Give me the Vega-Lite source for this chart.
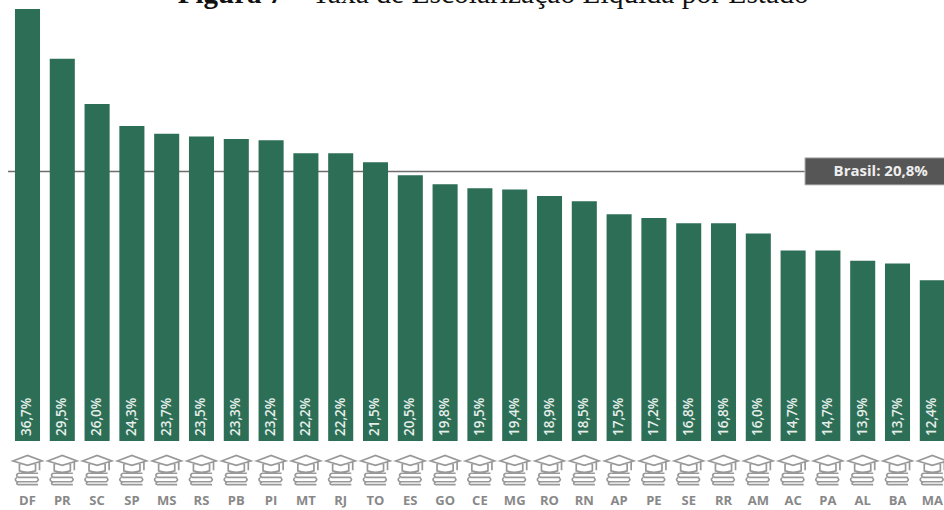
{
  "$schema": "https://vega.github.io/schema/vega-lite/v6.json",
  "width": 936,
  "height": 432,
  "autosize": {"type": "none"},
  "padding": {"left": 8, "top": 9, "right": 0, "bottom": 69},
  "background": "white",
  "config": {"view": {"stroke": null}},
  "data": {"values": [
    {"uf": "DF", "taxa": 36.7, "rotulo": "36,7%"},
    {"uf": "PR", "taxa": 29.5, "rotulo": "29,5%"},
    {"uf": "SC", "taxa": 26.0, "rotulo": "26,0%"},
    {"uf": "SP", "taxa": 24.3, "rotulo": "24,3%"},
    {"uf": "MS", "taxa": 23.7, "rotulo": "23,7%"},
    {"uf": "RS", "taxa": 23.5, "rotulo": "23,5%"},
    {"uf": "PB", "taxa": 23.3, "rotulo": "23,3%"},
    {"uf": "PI", "taxa": 23.2, "rotulo": "23,2%"},
    {"uf": "MT", "taxa": 22.2, "rotulo": "22,2%"},
    {"uf": "RJ", "taxa": 22.2, "rotulo": "22,2%"},
    {"uf": "TO", "taxa": 21.5, "rotulo": "21,5%"},
    {"uf": "ES", "taxa": 20.5, "rotulo": "20,5%"},
    {"uf": "GO", "taxa": 19.8, "rotulo": "19,8%"},
    {"uf": "CE", "taxa": 19.5, "rotulo": "19,5%"},
    {"uf": "MG", "taxa": 19.4, "rotulo": "19,4%"},
    {"uf": "RO", "taxa": 18.9, "rotulo": "18,9%"},
    {"uf": "RN", "taxa": 18.5, "rotulo": "18,5%"},
    {"uf": "AP", "taxa": 17.5, "rotulo": "17,5%"},
    {"uf": "PE", "taxa": 17.2, "rotulo": "17,2%"},
    {"uf": "SE", "taxa": 16.8, "rotulo": "16,8%"},
    {"uf": "RR", "taxa": 16.8, "rotulo": "16,8%"},
    {"uf": "AM", "taxa": 16.0, "rotulo": "16,0%"},
    {"uf": "AC", "taxa": 14.7, "rotulo": "14,7%"},
    {"uf": "PA", "taxa": 14.7, "rotulo": "14,7%"},
    {"uf": "AL", "taxa": 13.9, "rotulo": "13,9%"},
    {"uf": "BA", "taxa": 13.7, "rotulo": "13,7%"},
    {"uf": "MA", "taxa": 12.4, "rotulo": "12,4%"}
  ]},
  "layer": [
    {
      "data": {"values": [{"media": 20.8}]},
      "mark": {"type": "rule", "color": "#6e6e6e", "strokeWidth": 1.5},
      "encoding": {"y": {"field": "media", "type": "quantitative", "axis": null}}
    },
    {
      "mark": {"type": "bar", "color": "#2d6e56", "clip": true},
      "encoding": {
        "x": {
          "field": "uf",
          "type": "nominal",
          "sort": null,
          "title": null,
          "scale": {"range": [0, 943.8], "paddingInner": 0.28, "paddingOuter": 0.2},
          "axis": {
            "domain": false,
            "ticks": false,
            "labelAngle": 0,
            "labelPadding": 53,
            "labelFont": "Open Sans",
            "labelFontWeight": "bold",
            "labelFontSize": 13,
            "labelColor": "#888888",
            "labelOverlap": false
          }
        },
        "y": {
          "field": "taxa",
          "type": "quantitative",
          "title": null,
          "scale": {"domain": [0, 33.33], "nice": false},
          "axis": null
        }
      }
    },
    {
      "mark": {
        "type": "text",
        "angle": 270,
        "align": "left",
        "baseline": "middle",
        "dx": 5,
        "font": "Open Sans",
        "fontWeight": 600,
        "fontSize": 13.5,
        "color": "#e6eeea"
      },
      "encoding": {
        "x": {"field": "uf", "type": "nominal", "sort": null},
        "y": {"datum": 0},
        "text": {"field": "rotulo"}
      }
    },
    {
      "mark": {
        "type": "point",
        "filled": false,
        "size": 860,
        "color": "#999999",
        "strokeWidth": 1.7,
        "opacity": 1,
        "shape": "M-1,-.62L0,-1L1,-.62L0,-.32ZM-.55,-.46L-.55,.06Q0,.24 .55,.06L.55,-.46M.82,-.55L.82,.02M-.62,.22L.72,.22M-.62,.22Q-.86,.36 -.62,.5L.72,.5M-.72,.5Q-.94,.65 -.72,.8L.62,.8Q.86,.65 .62,.5M-.62,.8Q-.84,.92 -.62,1L.72,1"
      },
      "encoding": {
        "x": {"field": "uf", "type": "nominal", "sort": null},
        "y": {"datum": -2.24}
      }
    },
    {
      "data": {"values": [{"topo": 21.85, "base": 19.75, "de": "PA", "ate": "MA"}]},
      "mark": {"type": "rect", "color": "#565656", "stroke": "#c4c4c4", "strokeWidth": 1, "xOffset": -23, "x2Offset": 30},
      "encoding": {
        "x": {"field": "de", "type": "nominal", "sort": null},
        "x2": {"field": "ate"},
        "y": {"field": "topo", "type": "quantitative"},
        "y2": {"field": "base"}
      }
    },
    {
      "data": {"values": [{"media": 20.8, "uf": "AL", "texto": "Brasil: 20,8%"}]},
      "mark": {
        "type": "text",
        "font": "Open Sans",
        "fontWeight": "bold",
        "fontSize": 15,
        "color": "#eeeeee",
        "align": "center",
        "baseline": "middle",
        "dx": 18
      },
      "encoding": {
        "x": {"field": "uf", "type": "nominal", "sort": null},
        "y": {"field": "media", "type": "quantitative"},
        "text": {"field": "texto"}
      }
    },
    {
      "data": {"values": [{"uf": "PB", "topo": 33.33, "texto": "Figura 7"}]},
      "mark": {
        "type": "text",
        "font": "Liberation Serif",
        "fontWeight": "bold",
        "fontSize": 29,
        "color": "#111111",
        "align": "right",
        "baseline": "alphabetic",
        "dx": 47,
        "dy": -6.5
      },
      "encoding": {
        "x": {"field": "uf", "type": "nominal", "sort": null},
        "y": {"field": "topo", "type": "quantitative"},
        "text": {"field": "texto"}
      }
    },
    {
      "data": {"values": [{"uf": "PB", "topo": 33.33, "texto": "– Taxa de Escolarização Líquida por Estado"}]},
      "mark": {
        "type": "text",
        "font": "Liberation Serif",
        "fontSize": 29.5,
        "color": "#111111",
        "align": "left",
        "baseline": "alphabetic",
        "dx": 54,
        "dy": -6.5
      },
      "encoding": {
        "x": {"field": "uf", "type": "nominal", "sort": null},
        "y": {"field": "topo", "type": "quantitative"},
        "text": {"field": "texto"}
      }
    }
  ]
}
